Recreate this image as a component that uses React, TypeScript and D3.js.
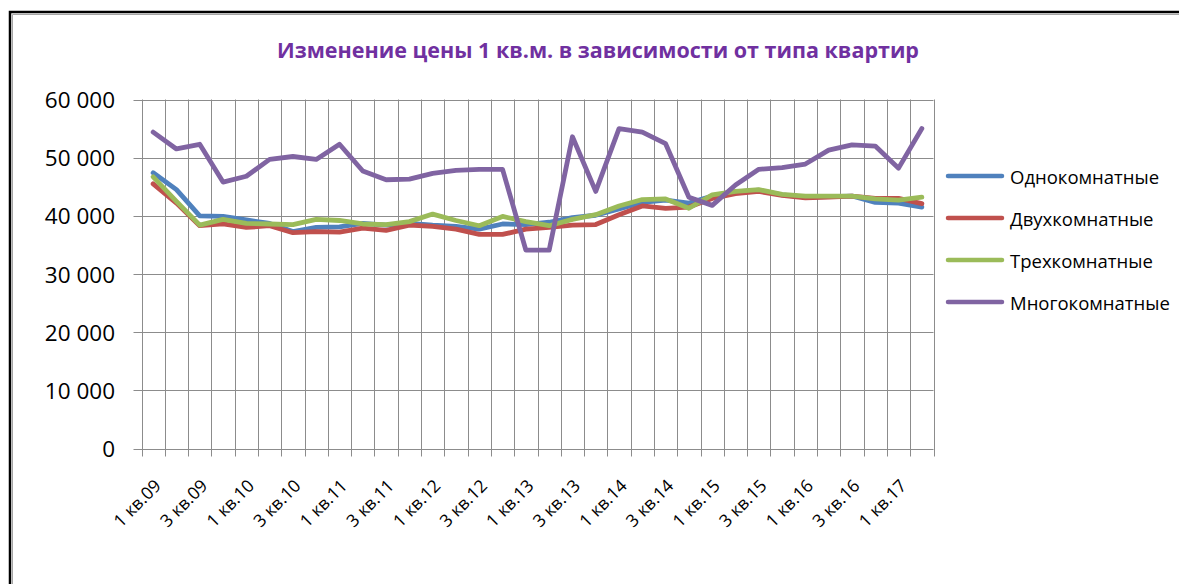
import { useEffect, useRef } from 'react';
import * as d3 from 'd3';

const QUARTERS = [
  '1 кв.09', '2 кв.09', '3 кв.09', '4 кв.09',
  '1 кв.10', '2 кв.10', '3 кв.10', '4 кв.10',
  '1 кв.11', '2 кв.11', '3 кв.11', '4 кв.11',
  '1 кв.12', '2 кв.12', '3 кв.12', '4 кв.12',
  '1 кв.13', '2 кв.13', '3 кв.13', '4 кв.13',
  '1 кв.14', '2 кв.14', '3 кв.14', '4 кв.14',
  '1 кв.15', '2 кв.15', '3 кв.15', '4 кв.15',
  '1 кв.16', '2 кв.16', '3 кв.16', '4 кв.16',
  '1 кв.17', '2 кв.17',
];

const ONE_ROOM = [
  47400, 44500, 40000, 39900, 39300, 38700, 37300, 38000, 38100, 38700, 38400, 38700,
  38400, 38200, 37700, 38600, 38500, 38900, 39700, 40100, 41200, 42300, 42700, 42200,
  43400, 44100, 44400, 43600, 43200, 43300, 43400, 42300, 42200, 41500,
];
const TWO_ROOM = [
  45500, 42200, 38300, 38600, 38000, 38300, 37100, 37300, 37200, 37900, 37500, 38400,
  38200, 37700, 36800, 36800, 37700, 38000, 38400, 38500, 40200, 41700, 41300, 41500,
  43000, 43800, 44200, 43500, 43100, 43200, 43400, 43000, 43000, 42100,
];
const THREE_ROOM = [
  46700, 42500, 38400, 39400, 38700, 38600, 38500, 39400, 39200, 38600, 38500, 39000,
  40300, 39200, 38300, 39900, 39000, 38300, 39400, 40200, 41700, 42800, 42900, 41300,
  43600, 44200, 44500, 43700, 43400, 43400, 43400, 42900, 42700, 43200,
];
const MULTI_ROOM = [
  54400, 51500, 52300, 45800, 46800, 49700, 50200, 49700, 52300, 47700, 46200, 46300,
  47300, 47800, 48000, 48000, 34100, 34100, 53600, 44200, 55000, 54400, 52400, 43200,
  41800, 45300, 48000, 48300, 48900, 51300, 52200, 52000, 48200, 55000,
];

const SERIES_NAMES = ['Однокомнатные', 'Двухкомнатные', 'Трехкомнатные', 'Многокомнатные'];
const SERIES_VALUES = [ONE_ROOM, TWO_ROOM, THREE_ROOM, MULTI_ROOM];
const SERIES_COLORS = ['#4F81BD', '#C0504D', '#9BBB59', '#8064A2'];
const Y_TICKS = [0, 10000, 20000, 30000, 40000, 50000, 60000];

const TITLE = 'Изменение цены 1 кв.м. в зависимости от типа квартир';
const FONT = "'Open Sans', sans-serif";

export default function App() {
  const svgRef = useRef<SVGSVGElement>(null);

  useEffect(() => {
    const el = svgRef.current;
    if (!el) return;
    const svg = d3.select(el);
    svg.selectAll('*').remove();

    const W = 1179;
    const H = 584;
    const left = 141.5, right = 933.5, top = 99.5, bottom = 448.5;

    // frame
    svg.append('path').attr('d', `M10,${H} V12 H${W}`)
      .attr('fill', 'none').attr('stroke', '#000').attr('stroke-width', 2.5);
    svg.append('path').attr('d', `M12.5,${H} V14.5 H${W}`)
      .attr('fill', 'none').attr('stroke', '#a6a6a6').attr('stroke-width', 1);

    svg.append('text')
      .attr('x', 598).attr('y', 58)
      .attr('text-anchor', 'middle')
      .attr('font-family', FONT).attr('font-size', '21.5px').attr('font-weight', 700)
      .attr('fill', '#7030A0')
      .text(TITLE);

    const x = d3.scaleBand().domain(QUARTERS).range([left, right]).padding(0);
    const y = d3.scaleLinear().domain([0, 60000]).range([bottom, top]);

    const g = svg.append('g');
    const grid = '#8c8c8c';

    // horizontal grid + left ticks
    Y_TICKS.forEach((t) => {
      g.append('line')
        .attr('x1', left - 8).attr('x2', right)
        .attr('y1', Math.round(y(t)) + 0.5).attr('y2', Math.round(y(t)) + 0.5)
        .attr('stroke', grid).attr('stroke-width', 1);
      g.append('text')
        .attr('x', 115).attr('y', y(t))
        .attr('text-anchor', 'end').attr('dominant-baseline', 'central')
        .attr('font-family', FONT).attr('font-size', '22.5px').attr('fill', '#000')
        .text(d3.format(',')(t).replace(',', ' '));
    });

    // vertical grid at category boundaries
    const bounds = QUARTERS.map((q) => x(q) || 0).concat([right]);
    bounds.forEach((b) => {
      g.append('line')
        .attr('x1', Math.round(b) + 0.5).attr('x2', Math.round(b) + 0.5)
        .attr('y1', top).attr('y2', bottom + 8)
        .attr('stroke', grid).attr('stroke-width', 1);
    });

    // category labels every 2nd quarter
    QUARTERS.forEach((q, i) => {
      if (i % 2 !== 0) return;
      const cx = (x(q) || 0) + x.bandwidth() / 2;
      g.append('text')
        .attr('transform', `translate(${cx + 4},${482}) rotate(-45)`)
        .attr('text-anchor', 'end').attr('dominant-baseline', 'central')
        .attr('font-family', FONT).attr('font-size', '17.5px').attr('fill', '#000')
        .text(q);
    });

    const line = d3.line<number>()
      .x((_, i) => (x(QUARTERS[i]) || 0) + x.bandwidth() / 2)
      .y((v) => y(v));

    SERIES_VALUES.forEach((vals, k) => {
      g.append('path')
        .attr('d', line(vals) || '')
        .attr('fill', 'none')
        .attr('stroke', SERIES_COLORS[k])
        .attr('stroke-width', 4.8)
        .attr('stroke-linejoin', 'round')
        .attr('stroke-linecap', 'round');
    });

    // legend
    SERIES_NAMES.forEach((name, k) => {
      const ly = 176 + k * 42;
      svg.append('line')
        .attr('x1', 948).attr('x2', 1002).attr('y1', ly).attr('y2', ly)
        .attr('stroke', SERIES_COLORS[k]).attr('stroke-width', 4.5)
        .attr('stroke-linecap', 'round');
      svg.append('text')
        .attr('x', 1010).attr('y', ly)
        .attr('dominant-baseline', 'central')
        .attr('font-family', FONT).attr('font-size', '18.5px').attr('fill', '#000')
        .text(name);
    });
  }, []);

  return (
    <svg
      ref={svgRef}
      width={1179}
      height={584}
      style={{ position: 'absolute', left: 0, top: 0, background: '#fff' }}
    />
  );
}
